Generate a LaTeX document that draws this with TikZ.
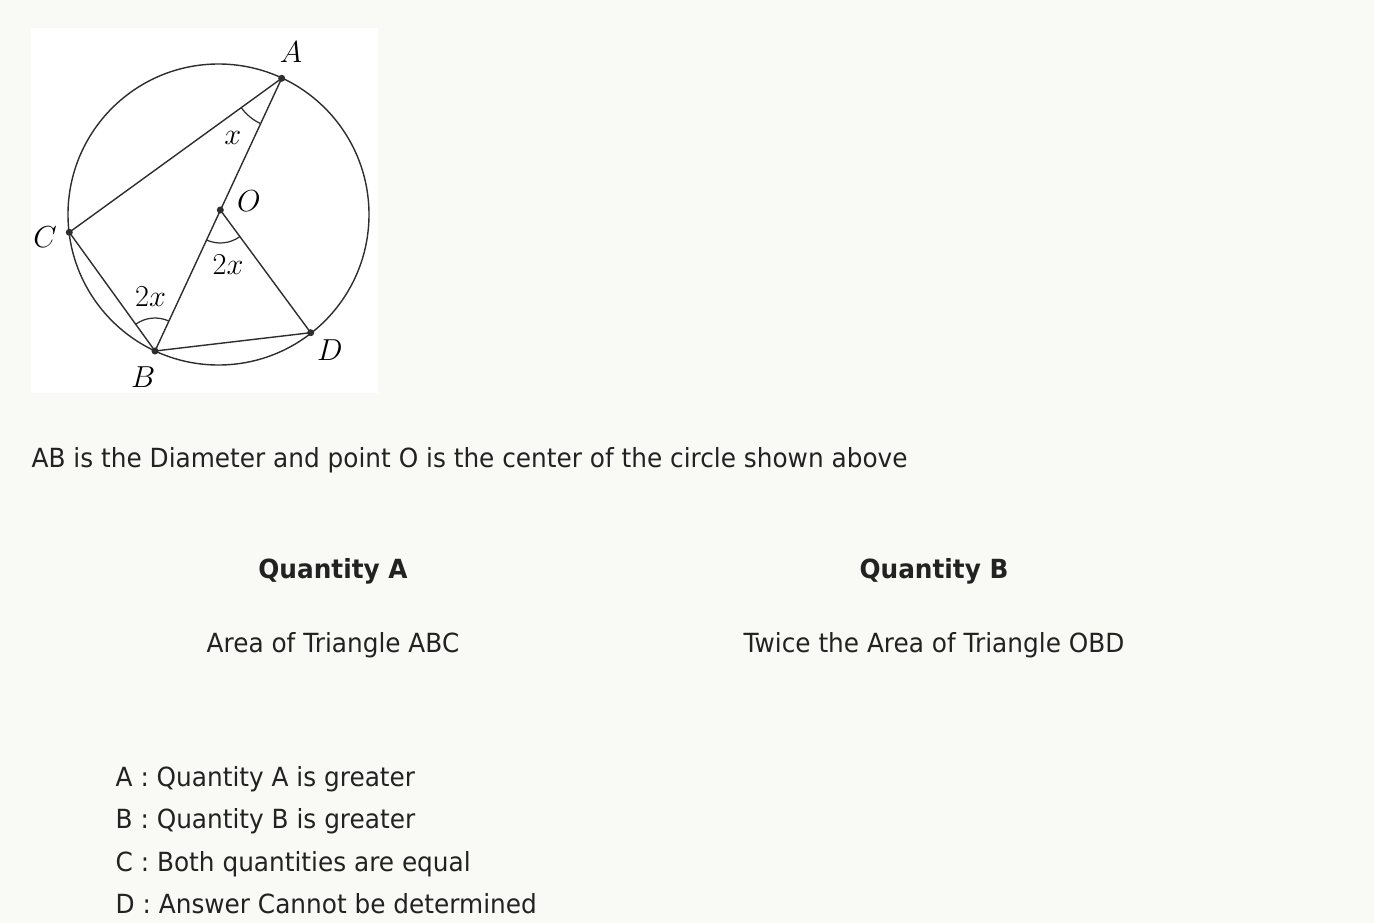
\documentclass[tikz,border=0pt]{standalone}
\usepackage{fontspec}
\setmainfont{DejaVu Sans}[FakeStretch=0.94]
\usepackage{amsmath}
\usetikzlibrary{angles}
\definecolor{pagebg}{HTML}{F9F9F6}
\definecolor{txt}{HTML}{222222}
\definecolor{figline}{HTML}{2E2E2E}

\begin{document}
\begin{tikzpicture}[x=0.02cm,y=-0.02cm,line width=0.8pt,
  txt node/.style={inner sep=0pt,text=txt,font=\fontsize{15}{18}\selectfont},
  head node/.style={txt node,font=\fontsize{15}{18}\selectfont\bfseries},
  pt label/.style={inner sep=0pt,font=\fontsize{16.5}{19}\selectfont}]
\tikzstyle{dot} = [circle, fill=figline, inner sep=0pt, minimum size=4pt]
\tikzstyle{anglearc} = [draw=figline, line width=0.7pt]

\fill[pagebg] (0,0) rectangle (1374,923);
\useasboundingbox (0,0) rectangle (1374,923);
\fill[white] (31,28) rectangle (378,393);

% points of the figure
\coordinate (ctr) at (218.5,214.5);
\coordinate (A) at (281.7,78.3);
\coordinate (B) at (155,351);
\coordinate (C) at (69.3,232.3);
\coordinate (D) at (310.7,332.7);
\coordinate (O) at (220.3,210);

\draw[figline] (ctr) circle [radius=150.5];
\draw[figline] (C) -- (A) -- (B) -- (C);
\draw[figline] (O) -- (D) -- (B);

\pic[anglearc, angle radius=1cm] {angle = C--A--B};
\pic[anglearc, angle radius=0.66cm] {angle = B--O--D};
\pic[anglearc, angle radius=0.66cm] {angle = A--B--C};

\foreach \p in {A,B,C,D,O} \node[dot] (dot\p) at (\p) {};

\node[pt label] (lblA) at (291,52) {$A$};
\node[pt label] (lblB) at (143.3,377) {$B$};
\node[pt label] (lblC) at (45,237) {$C$};
\node[pt label] (lblD) at (330,350) {$D$};
\node[pt label] (lblO) at (249,201) {$O$};
\node[pt label] (angA) at (232.7,138) {$x$};
\node[pt label] (angO) at (228,265) {$2x$};
\node[pt label] (angB) at (150.5,297) {$2x$};

% question text
\node[txt node, anchor=base west] (stem) at (31,467) {AB is the Diameter and point O is the center of the circle shown above};
\node[head node, anchor=base] (headA) at (333,578) {Quantity A};
\node[head node, anchor=base] (headB) at (934,578) {Quantity B};
\node[txt node, anchor=base] (qtyA) at (333,652) {Area of Triangle ABC};
\node[txt node, anchor=base] (qtyB) at (934,652) {Twice the Area of Triangle OBD};

\node[txt node, anchor=base west] (optA) at (115,786) {A : Quantity A is greater};
\node[txt node, anchor=base west] (optB) at (115,828) {B : Quantity B is greater};
\node[txt node, anchor=base west] (optC) at (115,871) {C : Both quantities are equal};
\node[txt node, anchor=base west] (optD) at (115,913) {D : Answer Cannot be determined};

\end{tikzpicture}
\end{document}
